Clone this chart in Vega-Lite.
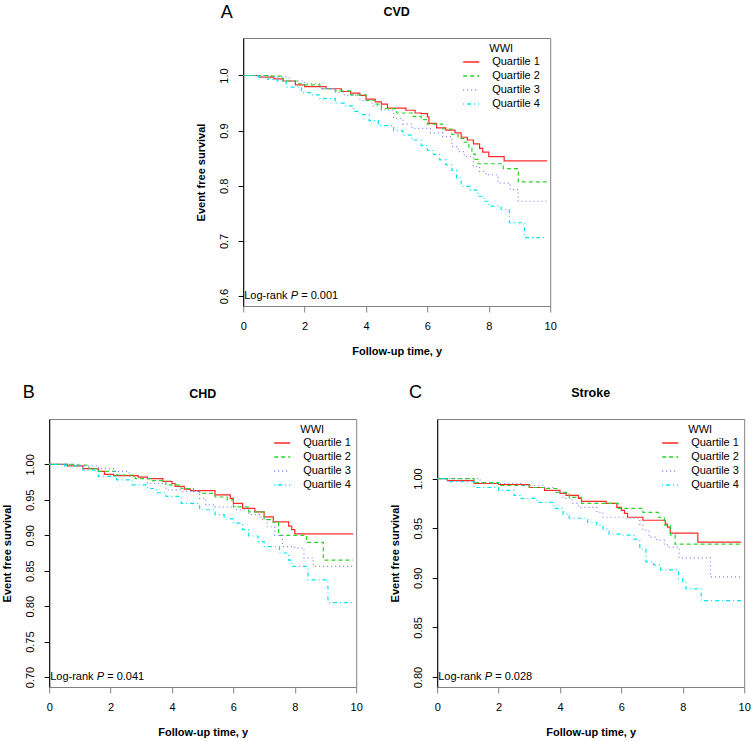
{
  "$schema": "https://vega.github.io/schema/vega-lite/v6.json",
  "background": "white",
  "padding": {"left": 0, "top": 3, "right": 5, "bottom": 0},
  "config": {
    "font": "Liberation Sans",
    "view": {"stroke": "#808080", "strokeWidth": 1},
    "axis": {"grid": false, "labelFontSize": 11, "labelColor": "#000", "titleFontSize": 11, "titleFontWeight": "bold", "titleColor": "#000", "labelFont": "Liberation Sans", "titleFont": "Liberation Sans"},
    "axisX": {"domain": false, "tickColor": "#808080", "tickSize": 6, "labelPadding": 8, "titlePadding": 14, "labelFlush": false},
    "axisY": {"domain": true, "domainColor": "#000", "tickColor": "#000", "tickSize": 5, "labelAngle": -90, "labelAlign": "center", "labelBaseline": "alphabetic", "labelPadding": 11, "titlePadding": 12, "labelFlush": false},
    "legend": {"titleFontSize": 11, "titleFontWeight": "normal", "titleColor": "#000", "labelFontSize": 11, "labelColor": "#000", "symbolType": "stroke", "symbolStrokeWidth": 1.3, "padding": 0}
  },
  "datasets": {
    "km": [
      {"p":"CVD","g":"Quartile 1","t":0,"s":1.0},{"p":"CVD","g":"Quartile 1","t":0.5,"s":0.997},{"p":"CVD","g":"Quartile 1","t":1.0,"s":0.994},{"p":"CVD","g":"Quartile 1","t":1.3,"s":0.99},{"p":"CVD","g":"Quartile 1","t":1.7,"s":0.983},{"p":"CVD","g":"Quartile 1","t":2.0,"s":0.98},{"p":"CVD","g":"Quartile 1","t":2.7,"s":0.976},{"p":"CVD","g":"Quartile 1","t":3.2,"s":0.971},{"p":"CVD","g":"Quartile 1","t":3.5,"s":0.968},{"p":"CVD","g":"Quartile 1","t":3.8,"s":0.964},{"p":"CVD","g":"Quartile 1","t":4.0,"s":0.957},{"p":"CVD","g":"Quartile 1","t":4.3,"s":0.952},{"p":"CVD","g":"Quartile 1","t":4.5,"s":0.948},{"p":"CVD","g":"Quartile 1","t":4.7,"s":0.941},{"p":"CVD","g":"Quartile 1","t":5.3,"s":0.937},{"p":"CVD","g":"Quartile 1","t":5.6,"s":0.932},{"p":"CVD","g":"Quartile 1","t":5.8,"s":0.931},{"p":"CVD","g":"Quartile 1","t":6.0,"s":0.925},{"p":"CVD","g":"Quartile 1","t":6.05,"s":0.913},{"p":"CVD","g":"Quartile 1","t":6.3,"s":0.905},{"p":"CVD","g":"Quartile 1","t":6.6,"s":0.901},{"p":"CVD","g":"Quartile 1","t":6.9,"s":0.896},{"p":"CVD","g":"Quartile 1","t":7.1,"s":0.888},{"p":"CVD","g":"Quartile 1","t":7.3,"s":0.883},{"p":"CVD","g":"Quartile 1","t":7.5,"s":0.876},{"p":"CVD","g":"Quartile 1","t":7.7,"s":0.868},{"p":"CVD","g":"Quartile 1","t":7.8,"s":0.861},{"p":"CVD","g":"Quartile 1","t":8.0,"s":0.853},{"p":"CVD","g":"Quartile 1","t":8.5,"s":0.845},{"p":"CVD","g":"Quartile 1","t":9.9,"s":0.845},
      {"p":"CVD","g":"Quartile 2","t":0,"s":1.0},{"p":"CVD","g":"Quartile 2","t":0.8,"s":0.999},{"p":"CVD","g":"Quartile 2","t":1.3,"s":0.99},{"p":"CVD","g":"Quartile 2","t":1.8,"s":0.985},{"p":"CVD","g":"Quartile 2","t":2.0,"s":0.983},{"p":"CVD","g":"Quartile 2","t":2.5,"s":0.976},{"p":"CVD","g":"Quartile 2","t":3.0,"s":0.972},{"p":"CVD","g":"Quartile 2","t":3.5,"s":0.965},{"p":"CVD","g":"Quartile 2","t":4.0,"s":0.955},{"p":"CVD","g":"Quartile 2","t":4.3,"s":0.948},{"p":"CVD","g":"Quartile 2","t":4.5,"s":0.94},{"p":"CVD","g":"Quartile 2","t":5.0,"s":0.932},{"p":"CVD","g":"Quartile 2","t":5.5,"s":0.926},{"p":"CVD","g":"Quartile 2","t":5.8,"s":0.92},{"p":"CVD","g":"Quartile 2","t":6.0,"s":0.912},{"p":"CVD","g":"Quartile 2","t":6.5,"s":0.903},{"p":"CVD","g":"Quartile 2","t":6.8,"s":0.893},{"p":"CVD","g":"Quartile 2","t":7.0,"s":0.886},{"p":"CVD","g":"Quartile 2","t":7.2,"s":0.879},{"p":"CVD","g":"Quartile 2","t":7.35,"s":0.87},{"p":"CVD","g":"Quartile 2","t":7.45,"s":0.858},{"p":"CVD","g":"Quartile 2","t":7.55,"s":0.848},{"p":"CVD","g":"Quartile 2","t":7.65,"s":0.84},{"p":"CVD","g":"Quartile 2","t":8.47,"s":0.831},{"p":"CVD","g":"Quartile 2","t":8.96,"s":0.807},{"p":"CVD","g":"Quartile 2","t":9.9,"s":0.807},
      {"p":"CVD","g":"Quartile 3","t":0,"s":1.0},{"p":"CVD","g":"Quartile 3","t":1.0,"s":0.997},{"p":"CVD","g":"Quartile 3","t":1.5,"s":0.99},{"p":"CVD","g":"Quartile 3","t":2.0,"s":0.985},{"p":"CVD","g":"Quartile 3","t":2.5,"s":0.976},{"p":"CVD","g":"Quartile 3","t":3.0,"s":0.97},{"p":"CVD","g":"Quartile 3","t":3.3,"s":0.964},{"p":"CVD","g":"Quartile 3","t":3.8,"s":0.955},{"p":"CVD","g":"Quartile 3","t":4.2,"s":0.945},{"p":"CVD","g":"Quartile 3","t":4.5,"s":0.937},{"p":"CVD","g":"Quartile 3","t":4.9,"s":0.922},{"p":"CVD","g":"Quartile 3","t":5.2,"s":0.912},{"p":"CVD","g":"Quartile 3","t":5.5,"s":0.904},{"p":"CVD","g":"Quartile 3","t":6.1,"s":0.896},{"p":"CVD","g":"Quartile 3","t":6.5,"s":0.889},{"p":"CVD","g":"Quartile 3","t":6.8,"s":0.871},{"p":"CVD","g":"Quartile 3","t":7.0,"s":0.862},{"p":"CVD","g":"Quartile 3","t":7.2,"s":0.853},{"p":"CVD","g":"Quartile 3","t":7.5,"s":0.835},{"p":"CVD","g":"Quartile 3","t":7.7,"s":0.826},{"p":"CVD","g":"Quartile 3","t":7.9,"s":0.82},{"p":"CVD","g":"Quartile 3","t":8.3,"s":0.805},{"p":"CVD","g":"Quartile 3","t":8.7,"s":0.793},{"p":"CVD","g":"Quartile 3","t":8.96,"s":0.772},{"p":"CVD","g":"Quartile 3","t":9.9,"s":0.772},
      {"p":"CVD","g":"Quartile 4","t":0,"s":1.0},{"p":"CVD","g":"Quartile 4","t":0.5,"s":0.997},{"p":"CVD","g":"Quartile 4","t":0.8,"s":0.993},{"p":"CVD","g":"Quartile 4","t":1.1,"s":0.99},{"p":"CVD","g":"Quartile 4","t":1.4,"s":0.979},{"p":"CVD","g":"Quartile 4","t":1.9,"s":0.969},{"p":"CVD","g":"Quartile 4","t":2.2,"s":0.965},{"p":"CVD","g":"Quartile 4","t":2.5,"s":0.958},{"p":"CVD","g":"Quartile 4","t":3.0,"s":0.95},{"p":"CVD","g":"Quartile 4","t":3.3,"s":0.945},{"p":"CVD","g":"Quartile 4","t":3.6,"s":0.935},{"p":"CVD","g":"Quartile 4","t":3.8,"s":0.929},{"p":"CVD","g":"Quartile 4","t":4.1,"s":0.918},{"p":"CVD","g":"Quartile 4","t":4.4,"s":0.909},{"p":"CVD","g":"Quartile 4","t":4.9,"s":0.9},{"p":"CVD","g":"Quartile 4","t":5.2,"s":0.892},{"p":"CVD","g":"Quartile 4","t":5.5,"s":0.883},{"p":"CVD","g":"Quartile 4","t":5.8,"s":0.873},{"p":"CVD","g":"Quartile 4","t":6.0,"s":0.864},{"p":"CVD","g":"Quartile 4","t":6.2,"s":0.857},{"p":"CVD","g":"Quartile 4","t":6.4,"s":0.847},{"p":"CVD","g":"Quartile 4","t":6.6,"s":0.838},{"p":"CVD","g":"Quartile 4","t":6.8,"s":0.828},{"p":"CVD","g":"Quartile 4","t":6.95,"s":0.814},{"p":"CVD","g":"Quartile 4","t":7.1,"s":0.799},{"p":"CVD","g":"Quartile 4","t":7.4,"s":0.792},{"p":"CVD","g":"Quartile 4","t":7.65,"s":0.781},{"p":"CVD","g":"Quartile 4","t":7.85,"s":0.772},{"p":"CVD","g":"Quartile 4","t":8.0,"s":0.763},{"p":"CVD","g":"Quartile 4","t":8.4,"s":0.757},{"p":"CVD","g":"Quartile 4","t":8.67,"s":0.733},{"p":"CVD","g":"Quartile 4","t":9.16,"s":0.706},{"p":"CVD","g":"Quartile 4","t":9.9,"s":0.706},

      {"p":"CHD","g":"Quartile 1","t":0,"s":1.0},{"p":"CHD","g":"Quartile 1","t":0.6,"s":0.998},{"p":"CHD","g":"Quartile 1","t":1.1,"s":0.994},{"p":"CHD","g":"Quartile 1","t":1.6,"s":0.99},{"p":"CHD","g":"Quartile 1","t":1.8,"s":0.986},{"p":"CHD","g":"Quartile 1","t":2.1,"s":0.984},{"p":"CHD","g":"Quartile 1","t":2.9,"s":0.982},{"p":"CHD","g":"Quartile 1","t":3.2,"s":0.98},{"p":"CHD","g":"Quartile 1","t":3.7,"s":0.976},{"p":"CHD","g":"Quartile 1","t":4.0,"s":0.973},{"p":"CHD","g":"Quartile 1","t":4.1,"s":0.969},{"p":"CHD","g":"Quartile 1","t":4.4,"s":0.965},{"p":"CHD","g":"Quartile 1","t":4.6,"s":0.963},{"p":"CHD","g":"Quartile 1","t":5.4,"s":0.957},{"p":"CHD","g":"Quartile 1","t":5.9,"s":0.952},{"p":"CHD","g":"Quartile 1","t":6.0,"s":0.945},{"p":"CHD","g":"Quartile 1","t":6.3,"s":0.938},{"p":"CHD","g":"Quartile 1","t":6.7,"s":0.933},{"p":"CHD","g":"Quartile 1","t":7.0,"s":0.926},{"p":"CHD","g":"Quartile 1","t":7.3,"s":0.919},{"p":"CHD","g":"Quartile 1","t":7.8,"s":0.913},{"p":"CHD","g":"Quartile 1","t":7.9,"s":0.908},{"p":"CHD","g":"Quartile 1","t":8.0,"s":0.902},{"p":"CHD","g":"Quartile 1","t":9.9,"s":0.902},
      {"p":"CHD","g":"Quartile 2","t":0,"s":1.0},{"p":"CHD","g":"Quartile 2","t":0.9,"s":0.999},{"p":"CHD","g":"Quartile 2","t":1.3,"s":0.994},{"p":"CHD","g":"Quartile 2","t":1.6,"s":0.99},{"p":"CHD","g":"Quartile 2","t":2.2,"s":0.985},{"p":"CHD","g":"Quartile 2","t":2.8,"s":0.98},{"p":"CHD","g":"Quartile 2","t":3.3,"s":0.977},{"p":"CHD","g":"Quartile 2","t":3.8,"s":0.971},{"p":"CHD","g":"Quartile 2","t":4.3,"s":0.966},{"p":"CHD","g":"Quartile 2","t":4.7,"s":0.962},{"p":"CHD","g":"Quartile 2","t":4.9,"s":0.959},{"p":"CHD","g":"Quartile 2","t":5.4,"s":0.954},{"p":"CHD","g":"Quartile 2","t":5.8,"s":0.95},{"p":"CHD","g":"Quartile 2","t":6.0,"s":0.94},{"p":"CHD","g":"Quartile 2","t":6.5,"s":0.933},{"p":"CHD","g":"Quartile 2","t":7.0,"s":0.922},{"p":"CHD","g":"Quartile 2","t":7.3,"s":0.918},{"p":"CHD","g":"Quartile 2","t":7.47,"s":0.9},{"p":"CHD","g":"Quartile 2","t":8.38,"s":0.89},{"p":"CHD","g":"Quartile 2","t":8.93,"s":0.865},{"p":"CHD","g":"Quartile 2","t":9.9,"s":0.865},
      {"p":"CHD","g":"Quartile 3","t":0,"s":1.0},{"p":"CHD","g":"Quartile 3","t":1.0,"s":0.998},{"p":"CHD","g":"Quartile 3","t":1.6,"s":0.994},{"p":"CHD","g":"Quartile 3","t":2.1,"s":0.99},{"p":"CHD","g":"Quartile 3","t":2.6,"s":0.983},{"p":"CHD","g":"Quartile 3","t":3.2,"s":0.973},{"p":"CHD","g":"Quartile 3","t":3.8,"s":0.964},{"p":"CHD","g":"Quartile 3","t":4.3,"s":0.962},{"p":"CHD","g":"Quartile 3","t":4.9,"s":0.952},{"p":"CHD","g":"Quartile 3","t":5.1,"s":0.943},{"p":"CHD","g":"Quartile 3","t":5.4,"s":0.94},{"p":"CHD","g":"Quartile 3","t":6.1,"s":0.936},{"p":"CHD","g":"Quartile 3","t":6.5,"s":0.929},{"p":"CHD","g":"Quartile 3","t":6.9,"s":0.922},{"p":"CHD","g":"Quartile 3","t":7.1,"s":0.912},{"p":"CHD","g":"Quartile 3","t":7.35,"s":0.9},{"p":"CHD","g":"Quartile 3","t":7.6,"s":0.884},{"p":"CHD","g":"Quartile 3","t":8.0,"s":0.882},{"p":"CHD","g":"Quartile 3","t":8.3,"s":0.868},{"p":"CHD","g":"Quartile 3","t":8.6,"s":0.856},{"p":"CHD","g":"Quartile 3","t":9.9,"s":0.856},
      {"p":"CHD","g":"Quartile 4","t":0,"s":1.0},{"p":"CHD","g":"Quartile 4","t":0.5,"s":0.998},{"p":"CHD","g":"Quartile 4","t":1.1,"s":0.992},{"p":"CHD","g":"Quartile 4","t":1.6,"s":0.983},{"p":"CHD","g":"Quartile 4","t":2.2,"s":0.978},{"p":"CHD","g":"Quartile 4","t":2.7,"s":0.971},{"p":"CHD","g":"Quartile 4","t":3.2,"s":0.966},{"p":"CHD","g":"Quartile 4","t":3.5,"s":0.96},{"p":"CHD","g":"Quartile 4","t":3.8,"s":0.955},{"p":"CHD","g":"Quartile 4","t":4.3,"s":0.945},{"p":"CHD","g":"Quartile 4","t":4.9,"s":0.936},{"p":"CHD","g":"Quartile 4","t":5.4,"s":0.929},{"p":"CHD","g":"Quartile 4","t":5.7,"s":0.923},{"p":"CHD","g":"Quartile 4","t":6.0,"s":0.917},{"p":"CHD","g":"Quartile 4","t":6.3,"s":0.908},{"p":"CHD","g":"Quartile 4","t":6.5,"s":0.899},{"p":"CHD","g":"Quartile 4","t":6.8,"s":0.891},{"p":"CHD","g":"Quartile 4","t":7.0,"s":0.884},{"p":"CHD","g":"Quartile 4","t":7.5,"s":0.875},{"p":"CHD","g":"Quartile 4","t":7.8,"s":0.865},{"p":"CHD","g":"Quartile 4","t":7.9,"s":0.856},{"p":"CHD","g":"Quartile 4","t":8.43,"s":0.837},{"p":"CHD","g":"Quartile 4","t":9.08,"s":0.805},{"p":"CHD","g":"Quartile 4","t":9.9,"s":0.805},

      {"p":"Stroke","g":"Quartile 1","t":0,"s":1.0},{"p":"Stroke","g":"Quartile 1","t":0.33,"s":0.998},{"p":"Stroke","g":"Quartile 1","t":1.2,"s":0.995},{"p":"Stroke","g":"Quartile 1","t":2.0,"s":0.994},{"p":"Stroke","g":"Quartile 1","t":3.0,"s":0.991},{"p":"Stroke","g":"Quartile 1","t":3.5,"s":0.988},{"p":"Stroke","g":"Quartile 1","t":4.0,"s":0.985},{"p":"Stroke","g":"Quartile 1","t":4.2,"s":0.983},{"p":"Stroke","g":"Quartile 1","t":4.6,"s":0.98},{"p":"Stroke","g":"Quartile 1","t":4.7,"s":0.977},{"p":"Stroke","g":"Quartile 1","t":5.5,"s":0.975},{"p":"Stroke","g":"Quartile 1","t":5.85,"s":0.971},{"p":"Stroke","g":"Quartile 1","t":6.0,"s":0.968},{"p":"Stroke","g":"Quartile 1","t":6.1,"s":0.965},{"p":"Stroke","g":"Quartile 1","t":6.2,"s":0.961},{"p":"Stroke","g":"Quartile 1","t":6.7,"s":0.958},{"p":"Stroke","g":"Quartile 1","t":7.43,"s":0.954},{"p":"Stroke","g":"Quartile 1","t":7.5,"s":0.951},{"p":"Stroke","g":"Quartile 1","t":7.59,"s":0.945},{"p":"Stroke","g":"Quartile 1","t":8.49,"s":0.936},{"p":"Stroke","g":"Quartile 1","t":9.9,"s":0.936},
      {"p":"Stroke","g":"Quartile 2","t":0,"s":1.0},{"p":"Stroke","g":"Quartile 2","t":1.2,"s":0.996},{"p":"Stroke","g":"Quartile 2","t":2.0,"s":0.993},{"p":"Stroke","g":"Quartile 2","t":3.0,"s":0.991},{"p":"Stroke","g":"Quartile 2","t":3.5,"s":0.99},{"p":"Stroke","g":"Quartile 2","t":3.9,"s":0.986},{"p":"Stroke","g":"Quartile 2","t":4.3,"s":0.981},{"p":"Stroke","g":"Quartile 2","t":4.7,"s":0.975},{"p":"Stroke","g":"Quartile 2","t":5.9,"s":0.97},{"p":"Stroke","g":"Quartile 2","t":6.7,"s":0.966},{"p":"Stroke","g":"Quartile 2","t":7.2,"s":0.961},{"p":"Stroke","g":"Quartile 2","t":7.4,"s":0.953},{"p":"Stroke","g":"Quartile 2","t":7.6,"s":0.943},{"p":"Stroke","g":"Quartile 2","t":7.75,"s":0.934},{"p":"Stroke","g":"Quartile 2","t":9.9,"s":0.934},
      {"p":"Stroke","g":"Quartile 3","t":0,"s":1.0},{"p":"Stroke","g":"Quartile 3","t":1.4,"s":0.996},{"p":"Stroke","g":"Quartile 3","t":1.8,"s":0.995},{"p":"Stroke","g":"Quartile 3","t":2.8,"s":0.993},{"p":"Stroke","g":"Quartile 3","t":3.5,"s":0.991},{"p":"Stroke","g":"Quartile 3","t":3.8,"s":0.986},{"p":"Stroke","g":"Quartile 3","t":4.1,"s":0.98},{"p":"Stroke","g":"Quartile 3","t":4.4,"s":0.975},{"p":"Stroke","g":"Quartile 3","t":4.6,"s":0.971},{"p":"Stroke","g":"Quartile 3","t":5.2,"s":0.966},{"p":"Stroke","g":"Quartile 3","t":5.4,"s":0.961},{"p":"Stroke","g":"Quartile 3","t":6.1,"s":0.96},{"p":"Stroke","g":"Quartile 3","t":6.6,"s":0.953},{"p":"Stroke","g":"Quartile 3","t":6.7,"s":0.948},{"p":"Stroke","g":"Quartile 3","t":6.9,"s":0.941},{"p":"Stroke","g":"Quartile 3","t":7.15,"s":0.938},{"p":"Stroke","g":"Quartile 3","t":7.4,"s":0.933},{"p":"Stroke","g":"Quartile 3","t":7.5,"s":0.931},{"p":"Stroke","g":"Quartile 3","t":7.88,"s":0.92},{"p":"Stroke","g":"Quartile 3","t":8.9,"s":0.901},{"p":"Stroke","g":"Quartile 3","t":9.9,"s":0.901},
      {"p":"Stroke","g":"Quartile 4","t":0,"s":1.0},{"p":"Stroke","g":"Quartile 4","t":0.33,"s":0.997},{"p":"Stroke","g":"Quartile 4","t":1.2,"s":0.991},{"p":"Stroke","g":"Quartile 4","t":2.0,"s":0.988},{"p":"Stroke","g":"Quartile 4","t":2.5,"s":0.983},{"p":"Stroke","g":"Quartile 4","t":2.7,"s":0.98},{"p":"Stroke","g":"Quartile 4","t":3.25,"s":0.976},{"p":"Stroke","g":"Quartile 4","t":3.8,"s":0.97},{"p":"Stroke","g":"Quartile 4","t":4.1,"s":0.964},{"p":"Stroke","g":"Quartile 4","t":4.3,"s":0.96},{"p":"Stroke","g":"Quartile 4","t":4.9,"s":0.956},{"p":"Stroke","g":"Quartile 4","t":5.2,"s":0.953},{"p":"Stroke","g":"Quartile 4","t":5.4,"s":0.949},{"p":"Stroke","g":"Quartile 4","t":5.6,"s":0.944},{"p":"Stroke","g":"Quartile 4","t":6.0,"s":0.943},{"p":"Stroke","g":"Quartile 4","t":6.4,"s":0.939},{"p":"Stroke","g":"Quartile 4","t":6.6,"s":0.929},{"p":"Stroke","g":"Quartile 4","t":6.8,"s":0.916},{"p":"Stroke","g":"Quartile 4","t":7.05,"s":0.913},{"p":"Stroke","g":"Quartile 4","t":7.28,"s":0.908},{"p":"Stroke","g":"Quartile 4","t":7.86,"s":0.899},{"p":"Stroke","g":"Quartile 4","t":8.0,"s":0.896},{"p":"Stroke","g":"Quartile 4","t":8.1,"s":0.889},{"p":"Stroke","g":"Quartile 4","t":8.6,"s":0.877},{"p":"Stroke","g":"Quartile 4","t":9.9,"s":0.877}
    ]
  },
  "center": true,
  "spacing": 26,
  "resolve": {"scale": {"color": "independent", "strokeDash": "independent"}, "legend": {"color": "independent", "strokeDash": "independent"}},
  "vconcat": [
    {
      "width": 307, "height": 268,
      "layer": [
        {
          "data": {"name": "km"},
          "transform": [{"filter": "datum.p == 'CVD'"}],
          "mark": {"type": "line", "interpolate": "step-after", "strokeWidth": 1.2},
          "encoding": {
            "x": {"field": "t", "type": "quantitative", "scale": {"domain": [0, 10], "nice": false, "zero": false}, "axis": {"values": [0, 2, 4, 6, 8, 10], "title": "Follow-up time, y"}},
            "y": {"field": "s", "type": "quantitative", "scale": {"domain": [0.582, 1.068], "nice": false, "zero": false}, "axis": {"values": [0.6, 0.7, 0.8, 0.9, 1.0], "format": ".1f", "title": "Event free survival"}},
            "color": {"field": "g", "type": "nominal", "scale": {"domain": ["Quartile 1", "Quartile 2", "Quartile 3", "Quartile 4"], "range": ["#ff2a2a", "#2ad42a", "#8080ff", "#00e6ee"]}, "legend": {"title": "WWI", "orient": "none", "legendX": 219, "legendY": 5, "symbolSize": 256, "rowPadding": 0, "labelOffset": 12, "titlePadding": -1, "titleAnchor": "middle"}},
            "strokeDash": {"field": "g", "type": "nominal", "scale": {"domain": ["Quartile 1", "Quartile 2", "Quartile 3", "Quartile 4"], "range": [[1, 0], [4, 3], [1, 3], [1, 3, 4, 3]]}, "legend": {"title": "WWI", "orient": "none", "legendX": 219, "legendY": 5, "symbolSize": 256, "rowPadding": 0, "labelOffset": 12, "titlePadding": -1, "titleAnchor": "middle"}}
          }
        },
        {"data": {"values": [{}]}, "mark": {"type": "text", "text": "A", "fontSize": 18, "align": "left", "baseline": "alphabetic"}, "encoding": {"x": {"datum": -0.73, "type": "quantitative"}, "y": {"datum": 1.1047, "type": "quantitative"}}},
        {"data": {"values": [{}]}, "mark": {"type": "text", "text": "CVD", "fontSize": 12.5, "fontWeight": "bold", "align": "center", "baseline": "alphabetic"}, "encoding": {"x": {"datum": 5, "type": "quantitative"}, "y": {"datum": 1.107, "type": "quantitative"}}},
        {"data": {"values": [{}]}, "mark": {"type": "text", "text": "Log-rank", "fontSize": 11, "align": "left", "baseline": "middle", "dx": 1}, "encoding": {"x": {"datum": 0, "type": "quantitative"}, "y": {"datum": 0.6, "type": "quantitative"}}},
        {"data": {"values": [{}]}, "mark": {"type": "text", "text": "P", "fontSize": 11, "fontStyle": "italic", "align": "left", "baseline": "middle", "dx": 47.5}, "encoding": {"x": {"datum": 0, "type": "quantitative"}, "y": {"datum": 0.6, "type": "quantitative"}}},
        {"data": {"values": [{}]}, "mark": {"type": "text", "text": "= 0.001", "fontSize": 11, "align": "left", "baseline": "middle", "dx": 58}, "encoding": {"x": {"datum": 0, "type": "quantitative"}, "y": {"datum": 0.6, "type": "quantitative"}}}
      ]
    },
    {
      "bounds": "flush",
      "spacing": 81,
      "resolve": {"scale": {"color": "independent", "strokeDash": "independent"}, "legend": {"color": "independent", "strokeDash": "independent"}},
      "hconcat": [
        {
          "width": 307, "height": 268,
          "layer": [
            {
              "data": {"name": "km"},
              "transform": [{"filter": "datum.p == 'CHD'"}],
              "mark": {"type": "line", "interpolate": "step-after", "strokeWidth": 1.2},
              "encoding": {
                "x": {"field": "t", "type": "quantitative", "scale": {"domain": [0, 10], "nice": false, "zero": false}, "axis": {"values": [0, 2, 4, 6, 8, 10], "title": "Follow-up time, y"}},
                "y": {"field": "s", "type": "quantitative", "scale": {"domain": [0.686, 1.064], "nice": false, "zero": false}, "axis": {"values": [0.7, 0.75, 0.8, 0.85, 0.9, 0.95, 1.0], "format": ".2f", "title": "Event free survival"}},
                "color": {"field": "g", "type": "nominal", "scale": {"domain": ["Quartile 1", "Quartile 2", "Quartile 3", "Quartile 4"], "range": ["#ff2a2a", "#2ad42a", "#8080ff", "#00e6ee"]}, "legend": {"title": "WWI", "orient": "none", "legendX": 224, "legendY": 5, "symbolSize": 256, "rowPadding": 0, "labelOffset": 12, "titlePadding": -1, "titleAnchor": "middle"}},
                "strokeDash": {"field": "g", "type": "nominal", "scale": {"domain": ["Quartile 1", "Quartile 2", "Quartile 3", "Quartile 4"], "range": [[1, 0], [4, 3], [1, 3], [1, 3, 4, 3]]}, "legend": {"title": "WWI", "orient": "none", "legendX": 224, "legendY": 5, "symbolSize": 256, "rowPadding": 0, "labelOffset": 12, "titlePadding": -1, "titleAnchor": "middle"}}
              }
            },
            {"data": {"values": [{}]}, "mark": {"type": "text", "text": "B", "fontSize": 18, "align": "left", "baseline": "alphabetic"}, "encoding": {"x": {"datum": -0.86, "type": "quantitative"}, "y": {"datum": 1.0937, "type": "quantitative"}}},
            {"data": {"values": [{}]}, "mark": {"type": "text", "text": "CHD", "fontSize": 12.5, "fontWeight": "bold", "align": "center", "baseline": "alphabetic"}, "encoding": {"x": {"datum": 5, "type": "quantitative"}, "y": {"datum": 1.0942, "type": "quantitative"}}},
            {"data": {"values": [{}]}, "mark": {"type": "text", "text": "Log-rank", "fontSize": 11, "align": "left", "baseline": "middle", "dx": 1}, "encoding": {"x": {"datum": 0, "type": "quantitative"}, "y": {"datum": 0.7, "type": "quantitative"}}},
            {"data": {"values": [{}]}, "mark": {"type": "text", "text": "P", "fontSize": 11, "fontStyle": "italic", "align": "left", "baseline": "middle", "dx": 47.5}, "encoding": {"x": {"datum": 0, "type": "quantitative"}, "y": {"datum": 0.7, "type": "quantitative"}}},
            {"data": {"values": [{}]}, "mark": {"type": "text", "text": "= 0.041", "fontSize": 11, "align": "left", "baseline": "middle", "dx": 58}, "encoding": {"x": {"datum": 0, "type": "quantitative"}, "y": {"datum": 0.7, "type": "quantitative"}}}
          ]
        },
        {
          "width": 307, "height": 268,
          "layer": [
            {
              "data": {"name": "km"},
              "transform": [{"filter": "datum.p == 'Stroke'"}],
              "mark": {"type": "line", "interpolate": "step-after", "strokeWidth": 1.2},
              "encoding": {
                "x": {"field": "t", "type": "quantitative", "scale": {"domain": [0, 10], "nice": false, "zero": false}, "axis": {"values": [0, 2, 4, 6, 8, 10], "title": "Follow-up time, y"}},
                "y": {"field": "s", "type": "quantitative", "scale": {"domain": [0.79, 1.06], "nice": false, "zero": false}, "axis": {"values": [0.8, 0.85, 0.9, 0.95, 1.0], "format": ".2f", "title": "Event free survival"}},
                "color": {"field": "g", "type": "nominal", "scale": {"domain": ["Quartile 1", "Quartile 2", "Quartile 3", "Quartile 4"], "range": ["#ff2a2a", "#2ad42a", "#8080ff", "#00e6ee"]}, "legend": {"title": "WWI", "orient": "none", "legendX": 224, "legendY": 5, "symbolSize": 256, "rowPadding": 0, "labelOffset": 12, "titlePadding": -1, "titleAnchor": "middle"}},
                "strokeDash": {"field": "g", "type": "nominal", "scale": {"domain": ["Quartile 1", "Quartile 2", "Quartile 3", "Quartile 4"], "range": [[1, 0], [4, 3], [1, 3], [1, 3, 4, 3]]}, "legend": {"title": "WWI", "orient": "none", "legendX": 224, "legendY": 5, "symbolSize": 256, "rowPadding": 0, "labelOffset": 12, "titlePadding": -1, "titleAnchor": "middle"}}
              }
            },
            {"data": {"values": [{}]}, "mark": {"type": "text", "text": "C", "fontSize": 18, "align": "left", "baseline": "alphabetic"}, "encoding": {"x": {"datum": -0.92, "type": "quantitative"}, "y": {"datum": 1.0813, "type": "quantitative"}}},
            {"data": {"values": [{}]}, "mark": {"type": "text", "text": "Stroke", "fontSize": 12.5, "fontWeight": "bold", "align": "center", "baseline": "alphabetic"}, "encoding": {"x": {"datum": 5, "type": "quantitative"}, "y": {"datum": 1.0817, "type": "quantitative"}}},
            {"data": {"values": [{}]}, "mark": {"type": "text", "text": "Log-rank", "fontSize": 11, "align": "left", "baseline": "middle", "dx": 1}, "encoding": {"x": {"datum": 0, "type": "quantitative"}, "y": {"datum": 0.8, "type": "quantitative"}}},
            {"data": {"values": [{}]}, "mark": {"type": "text", "text": "P", "fontSize": 11, "fontStyle": "italic", "align": "left", "baseline": "middle", "dx": 47.5}, "encoding": {"x": {"datum": 0, "type": "quantitative"}, "y": {"datum": 0.8, "type": "quantitative"}}},
            {"data": {"values": [{}]}, "mark": {"type": "text", "text": "= 0.028", "fontSize": 11, "align": "left", "baseline": "middle", "dx": 58}, "encoding": {"x": {"datum": 0, "type": "quantitative"}, "y": {"datum": 0.8, "type": "quantitative"}}}
          ]
        }
      ]
    }
  ]
}
